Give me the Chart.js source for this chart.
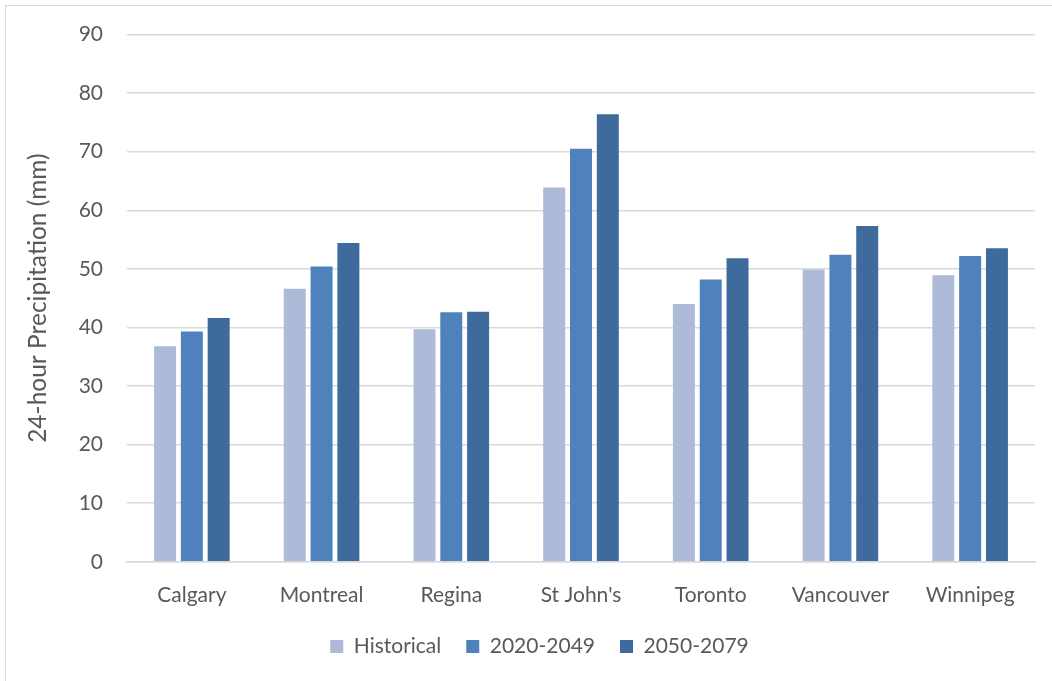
<!DOCTYPE html>
<html>
<head>
<meta charset="utf-8">
<script src="https://cdn.jsdelivr.net/npm/chart.js@4"></script>
<style>
  body { margin: 0; background: #fff; }
  #wrap { position: relative; width: 1052px; height: 681px; }
  #frame { position: absolute; left: 5px; top: 5px; width: 1100px; height: 700px;
           border: 1.5px solid #d9d9d9; pointer-events: none; }
</style>
</head>
<body>
<div id="wrap">
  <canvas id="myChart" width="1052" height="681"></canvas>
  <div id="frame"></div>
</div>
<script>
const cities = ["Calgary", "Montreal", "Regina", "St John's", "Toronto", "Vancouver", "Winnipeg"];
const historical = [36.8, 46.6, 39.7, 63.9, 44.0, 49.9, 48.9];
const mid2020 = [39.3, 50.4, 42.6, 70.5, 48.2, 52.4, 52.2];
const late2050 = [41.6, 54.4, 42.7, 76.4, 51.8, 57.3, 53.5];

Chart.defaults.font.family = "Lato, 'Open Sans', sans-serif";
Chart.defaults.color = "#595959";

// nudge the legend a bit right, like the original
const legendShift = {
  id: "legendShift",
  afterLayout(chart) {
    chart.legend.left += 12;
    chart.legend.right += 12;
  },
};

const chart = new Chart(document.getElementById("myChart"), {
  type: "bar",
  data: {
    labels: cities,
    datasets: [
      { label: "Historical", data: historical, backgroundColor: "#adbad8" },
      { label: "2020-2049", data: mid2020, backgroundColor: "#4f81bd" },
      { label: "2050-2079", data: late2050, backgroundColor: "#3f6a9c" },
    ],
  },
  options: {
    responsive: false,
    animation: false,
    layout: { padding: { left: 20, right: 17, top: 21, bottom: 14 } },
    datasets: {
      bar: { categoryPercentage: 0.62, barPercentage: 0.82 },
    },
    scales: {
      x: {
        grid: { display: false, drawTicks: false },
        border: { color: "#d9d9d9", width: 1.5 },
        ticks: { font: { size: 21 }, padding: 21 },
        // keep labels low but pull the legend up
        afterFit: (axis) => { axis.height -= 18; },
      },
      y: {
        min: 0,
        max: 90,
        ticks: { stepSize: 10, font: { size: 21, lineHeight: 1.0 }, padding: 24 },
        grid: { color: "#d9d9d9", lineWidth: 1.5, drawTicks: false },
        border: { display: false },
        title: {
          display: true,
          text: "24-hour Precipitation (mm)",
          font: { size: 24.5 },
          padding: { top: 3, bottom: 10 },
        },
        afterFit: (axis) => { axis.width = 107; },
      },
    },
    plugins: {
      legend: {
        position: "bottom",
        labels: { boxWidth: 13, boxHeight: 13, font: { size: 21 }, padding: 25 },
      },
      tooltip: { enabled: false },
    },
  },
  plugins: [legendShift],
});
</script>
</body>
</html>
